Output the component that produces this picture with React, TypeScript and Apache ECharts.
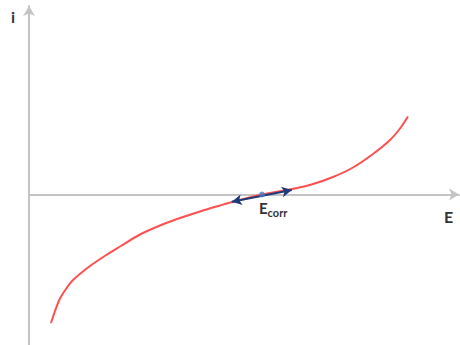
import React, { useEffect, useRef } from "react";
import * as echarts from "echarts";

// Polarization curve: potential E (x) against current i (y), arbitrary units
const potential = [0.55, 0.65, 0.775, 0.95, 1.1, 1.525, 1.95, 2.275, 2.775, 3.275, 3.775, 4.275, 4.775, 5.075, 5.825, 6.575, 7.1, 7.6, 8.1, 8.6, 9.025, 9.275, 9.475];
const current = [-2.57, -2.33, -2.08, -1.86, -1.71, -1.43, -1.2, -1.04, -0.8, -0.62, -0.47, -0.34, -0.22, -0.15, 0, 0.11, 0.21, 0.35, 0.54, 0.81, 1.09, 1.32, 1.56];

// Corrosion potential and the small linear region drawn around it
const ecorr = [5.825, 0];
const linearStart = [5.07, -0.144];
const linearEnd = [6.57, 0.09];

const axisColor = "#c4c4c4";
const textColor = "#333333";

export default function App() {
  const ref = useRef<HTMLDivElement>(null);

  useEffect(() => {
    if (!ref.current) return;
    const chart = echarts.init(ref.current, null, { renderer: "svg" });
    chart.setOption({
      animation: false,
      backgroundColor: "#ffffff",
      grid: { left: 29, right: 1, top: 6, bottom: 0 },
      xAxis: {
        type: "value",
        min: 0,
        max: 10.75,
        axisLine: {
          show: true,
          symbol: ["none", "arrow"],
          symbolSize: [9, 10],
          lineStyle: { color: axisColor, width: 2 },
        },
        axisTick: { show: false },
        axisLabel: { show: false },
        splitLine: { show: false },
      },
      yAxis: {
        type: "value",
        min: -3.01,
        max: 3.77,
        axisLine: {
          show: true,
          symbol: ["none", "arrow"],
          symbolSize: [9, 10],
          lineStyle: { color: axisColor, width: 2 },
        },
        axisTick: { show: false },
        axisLabel: { show: false },
        splitLine: { show: false },
      },
      series: [
        {
          type: "line",
          data: potential.map((e, k) => [e, current[k]]),
          smooth: 0.3,
          showSymbol: false,
          silent: true,
          lineStyle: { color: "#ff4f4f", width: 2 },
          markLine: {
            silent: true,
            symbol: ["arrow", "arrow"],
            symbolSize: [8, 10],
            label: { show: false },
            lineStyle: { color: "#1f3a78", width: 2, type: "solid" },
            data: [[{ coord: linearStart }, { coord: linearEnd }]],
          },
        },
        {
          type: "scatter",
          data: [ecorr],
          symbolSize: 6,
          silent: true,
          z: 10,
          itemStyle: { color: "#4d78c0" },
        },
      ],
      graphic: [
        {
          type: "text",
          left: 11,
          top: 8,
          style: { text: "i", font: "bold 16px Lato", fill: textColor },
        },
        {
          type: "text",
          left: 444,
          top: 208,
          style: { text: "E", font: "bold 16px Lato", fill: textColor },
        },
        {
          type: "text",
          left: 259,
          top: 200,
          style: {
            text: "{e|E}{s|corr}",
            rich: {
              e: { font: "bold 15px Lato", fill: textColor, verticalAlign: "bottom" },
              s: { font: "bold 11px Lato", fill: textColor, verticalAlign: "bottom", padding: [0, 0, -3, 0] },
            },
          },
        },
      ],
    });
    return () => chart.dispose();
  }, []);

  return (
    <div
      ref={ref}
      style={{ position: "absolute", left: 0, top: 0, width: 460, height: 345 }}
    />
  );
}
